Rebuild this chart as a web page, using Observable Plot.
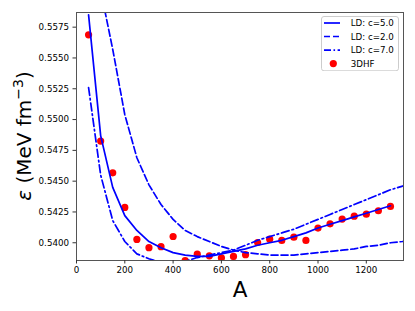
<!DOCTYPE html>
<html>
<head>
<meta charset="utf-8">
<script src="https://cdn.jsdelivr.net/npm/d3@7"></script>
<script src="https://cdn.jsdelivr.net/npm/@observablehq/plot@0.6"></script>
<style>
  html, body { margin: 0; padding: 0; background: white; }
  #wrap { position: relative; width: 415px; height: 311px; font-family: "DejaVu Sans", sans-serif; }
  #legend { position: absolute; left: 321px; top: 15.7px; }
</style>
</head>
<body>
<div id="wrap"></div>
<script>
// ---- data ----
const hfA = [50,100,150,200,250,300,350,400,450,500,550,600,650,700,750,800,850,900,950,1000,1050,1100,1150,1200,1250,1300];
const hfE = [0.55688,0.54825,0.54568,0.54287,0.54027,0.53960,0.53968,0.54051,0.53856,0.53907,0.53894,0.53878,0.53889,0.53903,0.54002,0.54029,0.54019,0.54045,0.54019,0.54119,0.54154,0.54192,0.54216,0.54232,0.54260,0.54295];

const c5A = [50,100,150,200,250,300,350,400,450,500,550,600,650,700,750,800,850,900,950,1000,1050,1100,1150,1200,1250,1300];
const c5E = [0.5585,0.5487,0.5445,0.5422,0.5410,0.5401,0.5396,0.5392,0.5390,0.5389,0.5389,0.5391,0.5393,0.5395,0.5398,0.5400,0.5402,0.5405,0.5408,0.5412,0.5415,0.5418,0.5421,0.5424,0.5427,0.5430];

const c2A = [100,150,200,250,300,350,400,450,500,550,600,650,700,750,800,850,900,950,1000,1050,1100,1150,1200,1250,1300,1350,1400];
const c2E = [0.5605,0.5557,0.5504,0.5469,0.5447,0.5431,0.5419,0.5410,0.5405,0.5401,0.5397,0.5394,0.5392,0.5391,0.5390,0.5390,0.5390,0.5391,0.5392,0.5393,0.5394,0.5395,0.5397,0.5398,0.5400,0.5401,0.5403];

const c7A = [50,100,150,200,250,300,350,400,450,500,550,600,650,700,750,800,850,900,950,1000,1050,1100,1150,1200,1250,1300,1350,1400];
const c7E = [0.5526,0.5455,0.5418,0.5401,0.5391,0.5387,0.5384,0.5383,0.5385,0.5388,0.5390,0.5392,0.5394,0.5398,0.5402,0.5405,0.5408,0.5411,0.5415,0.5419,0.5423,0.5427,0.5431,0.5435,0.5439,0.5443,0.5446,0.5450];

const xTicks = [0,200,400,600,800,1000,1200];
const yTicks = [0.5400,0.5425,0.5450,0.5475,0.5500,0.5525,0.5550,0.5575];

const seriesNames = ["LD: c=5.0","LD: c=2.0","LD: c=7.0"];
const seriesDash = [null, "7,3", "8,3,1.6,3"];
const hfName = "3DHF";
const xLabel = "A";

// ---- build tables ----
const zip = (xs, ys) => xs.map((a, i) => ({A: a, E: ys[i]}));
const hf = zip(hfA, hfE);
const lines = [zip(c5A, c5E), zip(c2A, c2E), zip(c7A, c7E)];

const lineMarks = lines.map((data, i) =>
  Plot.line(data, {x: "A", y: "E", stroke: "blue", strokeWidth: 1.7,
    strokeDasharray: seriesDash[i] || undefined, clip: true})
);

const chart = Plot.plot({
  width: 415,
  height: 311,
  marginLeft: 76,
  marginRight: 12,
  marginTop: 12,
  marginBottom: 51,
  style: {fontFamily: "DejaVu Sans", fontSize: "8.7px", background: "white", color: "black"},
  x: {domain: [0, 1354]},
  y: {domain: [0.53856, 0.55869]},
  marks: [
    Plot.dot(hf, {x: "A", y: "E", r: 3.6, fill: "red", clip: true}),
    ...lineMarks,
    Plot.frame({stroke: "#555", strokeWidth: 1}),
    Plot.axisX({ticks: xTicks, tickSize: 3.5, tickPadding: 3, label: null, tickFormat: d => String(d), stroke: "#333"}),
    Plot.axisY({ticks: yTicks, tickSize: 3.5, tickPadding: 4, label: null, tickFormat: d3.format(".4f"), stroke: "#333"}),
    Plot.text([xLabel], {frameAnchor: "bottom", dy: 36.5, fontSize: 21.5, lineAnchor: "bottom", fill: "black"})
  ]
});

document.getElementById("wrap").appendChild(chart);

// Y axis label with superscript
const svg = d3.select(chart);
const yl = svg.append("text")
  .attr("transform", `translate(31,${(12 + 260) / 2}) rotate(-90)`)
  .attr("text-anchor", "middle")
  .attr("font-family", "DejaVu Sans")
  .attr("font-size", 20)
  .attr("fill", "black");
yl.append("tspan").attr("font-style", "italic").text("ε");
yl.append("tspan").text(" (MeV fm");
yl.append("tspan").attr("font-size", 14).attr("dy", -8).text("−3");
yl.append("tspan").attr("dy", 8).text(")");

// Legend
const legend = d3.select("#wrap").append("div").attr("id", "legend");
const lw = 78, lh = 55.3;
const ls = legend.append("svg").attr("width", lw).attr("height", lh);
ls.append("rect").attr("x", 0.5).attr("y", 0.5).attr("width", lw - 1).attr("height", lh - 1)
  .attr("rx", 2.5).attr("fill", "white").attr("fill-opacity", 0.85).attr("stroke", "#ccc");
const rowY = [7, 20.5, 34.1, 47.6];
seriesNames.forEach((name, i) => {
  ls.append("line").attr("x1", 3).attr("x2", 19).attr("y1", rowY[i]).attr("y2", rowY[i])
    .attr("stroke", "blue").attr("stroke-width", 1.7)
    .attr("stroke-dasharray", seriesDash[i] ? (i === 1 ? "6,3" : "7,2.5,1.6,2.5") : null);
  ls.append("text").attr("x", 29.7).attr("y", rowY[i]).attr("dy", "0.35em")
    .attr("font-family", "DejaVu Sans").attr("font-size", 8.7).text(name);
});
ls.append("circle").attr("cx", 12.3).attr("cy", rowY[3]).attr("r", 3.6).attr("fill", "red");
ls.append("text").attr("x", 29.7).attr("y", rowY[3]).attr("dy", "0.35em")
  .attr("font-family", "DejaVu Sans").attr("font-size", 8.7).text(hfName);
</script>
</body>
</html>
